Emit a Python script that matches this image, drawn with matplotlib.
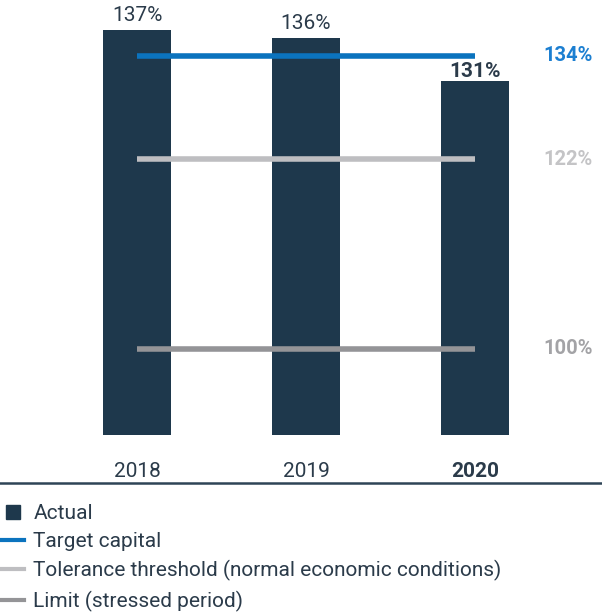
import matplotlib
matplotlib.use("Agg")
import matplotlib.pyplot as plt
from matplotlib.lines import Line2D

plt.rcParams['font.family'] = ['Roboto', 'DejaVu Sans']

# capital ratio per year, plus the three reference levels
years = ['2018', '2019', '2020']
actual = [137, 136, 131]
target_capital = 134
tolerance = 122
limit = 100
base = 90

bar_color = '#1e384c'
blue = '#0b73be'
light_grey = '#bebec1'
dark_grey = '#949497'
text_dark = '#2b3b4a'

fig = plt.figure(figsize=(6.02, 6.14), dpi=100)
ax = fig.add_axes([0, 0.2134, 1, 0.7866])

x = list(range(len(years)))
bars = ax.bar(x, [a - base for a in actual], bottom=base, width=0.4,
              color=bar_color, zorder=2)

# reference levels run from the first to the last bar centre
ax.hlines(target_capital, x[0], x[-1], color=blue, lw=4, zorder=3)
ax.hlines(tolerance, x[0], x[-1], color=light_grey, lw=4, zorder=3)
ax.hlines(limit, x[0], x[-1], color=dark_grey, lw=4, zorder=3)

for i, v in enumerate(actual):
    last = i == len(actual) - 1
    ax.annotate('{}%'.format(v), (x[i], v), xytext=(0, 0.5 if last else 3.5),
                textcoords='offset points', ha='center', va='bottom',
                fontsize=15, color=text_dark,
                fontweight='bold' if last else 'normal')

lab_x = 2.698
ax.text(lab_x, target_capital, '{}%'.format(target_capital), ha='right',
        va='center', fontsize=14.5, fontweight='bold', color='#1c7fd1')
ax.text(lab_x, tolerance, '{}%'.format(tolerance), ha='right',
        va='center', fontsize=14.5, fontweight='semibold', color='#c4c4c6')
ax.text(lab_x, limit, '{}%'.format(limit), ha='right',
        va='center', fontsize=14.5, fontweight='semibold', color='#a3a3a6')

for i, yr in enumerate(years):
    last = i == len(years) - 1
    ax.text(x[i], 0.024, yr, transform=ax.get_xaxis_transform(),
            ha='center', va='center', fontsize=15, color=text_dark,
            fontweight='bold' if last else 'normal')

ax.set_xlim(-0.8107, 2.751)
ax.set_ylim(84.47, 140.44)
for side in ['top', 'left', 'right']:
    ax.spines[side].set_visible(False)
ax.spines['bottom'].set_color('#2e4456')
ax.spines['bottom'].set_linewidth(1.8)
ax.set_yticks([])
ax.set_xticks([])

handles = [
    Line2D([], [], marker='s', linestyle='none', markersize=10,
           color=bar_color),
    Line2D([], [], color=blue, lw=3),
    Line2D([], [], color=light_grey, lw=3),
    Line2D([], [], color=dark_grey, lw=3),
]
labels = ['Actual', 'Target capital',
          'Tolerance threshold (normal economic conditions)',
          'Limit (stressed period)']
leg = fig.legend(handles, labels, loc='upper left',
                 bbox_to_anchor=(-0.012, 0.193), frameon=False,
                 fontsize=15, handlelength=1.1, handletextpad=0.45,
                 labelspacing=0.44, borderaxespad=0)
for t in leg.get_texts():
    t.set_color(text_dark)

fig.savefig('out.png', dpi=100)
